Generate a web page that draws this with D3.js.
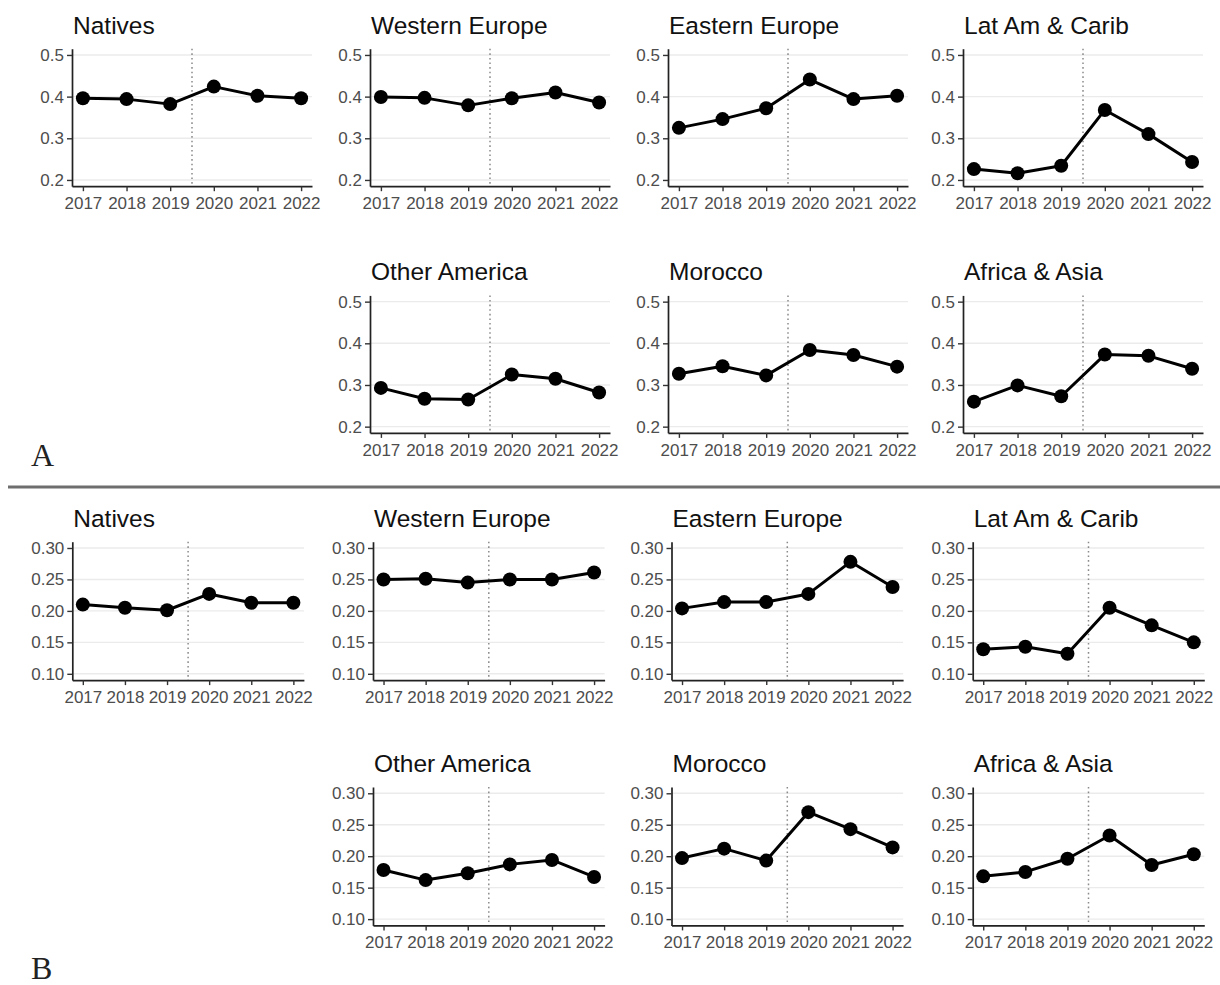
<!DOCTYPE html>
<html>
<head>
<meta charset="utf-8">
<script src="https://cdn.jsdelivr.net/npm/d3@7"></script>
<style>
  html, body { margin: 0; padding: 0; background: #fff; }
  svg { display: block; }
</style>
</head>
<body>
<script>
// Years on the x axis and the region names used as panel titles
const years = [2017, 2018, 2019, 2020, 2021, 2022];
const regions = ["Natives", "Western Europe", "Eastern Europe", "Lat Am & Carib",
                 "Other America", "Morocco", "Africa & Asia"];

// Panel A values by region
const nativesA  = [0.396, 0.394, 0.382, 0.424, 0.402, 0.396];
const westEurA  = [0.399, 0.397, 0.379, 0.396, 0.410, 0.386];
const eastEurA  = [0.325, 0.346, 0.372, 0.441, 0.394, 0.402];
const latAmA    = [0.226, 0.216, 0.234, 0.368, 0.310, 0.243];
const otherAmA  = [0.293, 0.267, 0.265, 0.325, 0.315, 0.282];
const moroccoA  = [0.327, 0.345, 0.323, 0.384, 0.372, 0.344];
const afrAsiaA  = [0.260, 0.299, 0.273, 0.373, 0.370, 0.339];

// Panel B values by region
const nativesB  = [0.210, 0.205, 0.201, 0.227, 0.213, 0.213];
const westEurB  = [0.250, 0.251, 0.245, 0.250, 0.250, 0.261];
const eastEurB  = [0.204, 0.214, 0.214, 0.227, 0.278, 0.238];
const latAmB    = [0.139, 0.143, 0.132, 0.205, 0.177, 0.150];
const otherAmB  = [0.178, 0.162, 0.173, 0.187, 0.194, 0.167];
const moroccoB  = [0.197, 0.212, 0.193, 0.270, 0.243, 0.214];
const afrAsiaB  = [0.168, 0.175, 0.196, 0.233, 0.186, 0.203];

// Axis tick values
const yTicksA = [0.2, 0.3, 0.4, 0.5];
const yTicksB = [0.10, 0.15, 0.20, 0.25, 0.30];
const breakYear = 2019.5;

const seriesA = [nativesA, westEurA, eastEurA, latAmA, otherAmA, moroccoA, afrAsiaA];
const seriesB = [nativesB, westEurB, eastEurB, latAmB, otherAmB, moroccoB, afrAsiaB];

// Grid slot (row, col) of each region; row 2 leaves the first column empty
const slots = [[0,0],[0,1],[0,2],[0,3],[1,1],[1,2],[1,3]];

const W = 1220, H = 985;
const sans = "'Liberation Sans', Arial, sans-serif";

const svg = d3.select("body").append("svg")
  .attr("width", W).attr("height", H)
  .attr("viewBox", `0 0 ${W} ${H}`);

function drawSection(cfg) {
  const g = svg.append("g");
  cfg.series.forEach((vals, i) => {
    const [r, c] = slots[i];
    const left = cfg.colLeft[c];
    const top = cfg.rowTop[r];
    const x = d3.scaleLinear().domain([2016.75, 2022.25]).range([left, left + cfg.width]);
    const y = d3.scaleLinear().domain(cfg.yDomain).range([top + cfg.height, top]);
    const p = g.append("g");

    // horizontal grid lines
    p.selectAll("line.grid").data(cfg.yTicks).join("line")
      .attr("x1", left).attr("x2", left + cfg.width)
      .attr("y1", d => y(d)).attr("y2", d => y(d))
      .attr("stroke", "#ebebeb").attr("stroke-width", 1.4);

    // dotted break line between 2019 and 2020
    p.append("line")
      .attr("x1", x(breakYear)).attr("x2", x(breakYear))
      .attr("y1", top).attr("y2", top + cfg.height)
      .attr("stroke", "#8a8a8a").attr("stroke-width", 1.5)
      .attr("stroke-dasharray", "1.6,3");

    // axes
    const yAxis = d3.axisLeft(y).tickValues(cfg.yTicks).tickFormat(cfg.yFmt)
      .tickSizeInner(5).tickSizeOuter(0).tickPadding(3);
    const xAxis = d3.axisBottom(x).tickValues(years).tickFormat(d3.format("d"))
      .tickSizeInner(5).tickSizeOuter(0).tickPadding(6);

    const ya = p.append("g").attr("transform", `translate(${left},0)`).call(yAxis);
    const xa = p.append("g").attr("transform", `translate(0,${top + cfg.height})`).call(xAxis);
    [ya, xa].forEach(a => {
      a.select(".domain").attr("stroke", "#222").attr("stroke-width", 1.7);
      a.selectAll(".tick line").attr("stroke", "#333").attr("stroke-width", 1.4);
      a.selectAll(".tick text").attr("fill", "#4d4d4d")
        .style("font-family", sans).style("font-size", "17px");
    });

    // series line and points
    const pts = years.map((yr, k) => [yr, vals[k]]);
    p.append("path").datum(pts)
      .attr("fill", "none").attr("stroke", "#000").attr("stroke-width", 3)
      .attr("stroke-linejoin", "round")
      .attr("d", d3.line().x(d => x(d[0])).y(d => y(d[1])));
    p.selectAll("circle").data(pts).join("circle")
      .attr("cx", d => x(d[0])).attr("cy", d => y(d[1])).attr("r", 7)
      .attr("fill", "#000");

    // panel title
    p.append("text")
      .attr("x", left + 1).attr("y", top - 15)
      .attr("fill", "#111").style("font-family", sans).style("font-size", "24.5px")
      .text(regions[i]);
  });

  // section letter
  svg.append("text")
    .attr("x", cfg.letterX).attr("y", cfg.letterY)
    .style("font-family", "'Liberation Serif', 'DejaVu Serif', serif")
    .style("font-size", "32px").attr("fill", "#222")
    .text(cfg.letter);
}

drawSection({
  series: seriesA, letter: "A", letterX: 31, letterY: 466,
  colLeft: [72, 370, 668, 963], width: 240,
  rowTop: [48.7, 295.4], height: 137.5,
  yDomain: [0.185, 0.515], yTicks: yTicksA, yFmt: d3.format(".1f")
});

drawSection({
  series: seriesB, letter: "B", letterX: 31, letterY: 979,
  colLeft: [72.3, 373, 671.5, 972.7], width: 231.6,
  rowTop: [541.7, 787], height: 138.4,
  yDomain: [0.09, 0.31], yTicks: yTicksB, yFmt: d3.format(".2f")
});

// divider between the two sections
svg.append("line")
  .attr("x1", 8).attr("x2", W).attr("y1", 487).attr("y2", 487)
  .attr("stroke", "#6e6e6e").attr("stroke-width", 3);
</script>
</body>
</html>
